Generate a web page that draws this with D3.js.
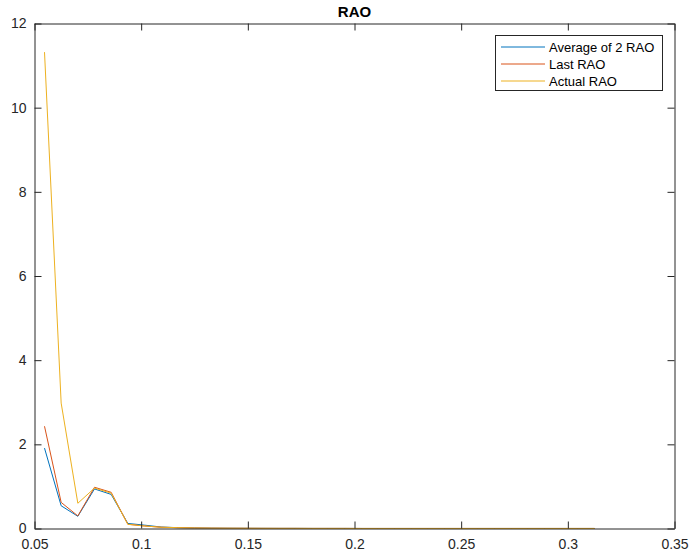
<!DOCTYPE html>
<html lang="en">
<head>
<meta charset="utf-8">
<title>RAO</title>
<script src="https://d3js.org/d3.v7.min.js"></script>
<style>
  body { margin: 0; background: #fff; }
  text { font-family: "Liberation Sans", Helvetica, Arial, sans-serif; fill: #262626; }
  .legend text { font-size: 13px; }
</style>
</head>
<body>
<div id="chart"></div>
<script>
// frequencies k/128, k = 7..40
var freq = [7,8,9,10,11,12,13,14,15,16,17,18,19,20,21,22,23,24,25,26,27,28,29,30,31,32,33,34,35,36,37,38,39,40].map(function(k){ return k / 128; });

var avgRAO    = [1.91, 0.54, 0.29, 0.94, 0.81, 0.12, 0.08, 0.035, 0.02, 0.012, 0.008, 0.006, 0.005, 0.004, 0.003, 0.003, 0.002, 0.002, 0.002, 0.001, 0.001, 0.001, 0.001, 0.001, 0.001, 0.001, 0.001, 0.001, 0.001, 0.001, 0.001, 0.001, 0.001, 0.001];
var lastRAO   = [2.43, 0.62, 0.30, 0.98, 0.86, 0.10, 0.06, 0.03, 0.02, 0.012, 0.008, 0.006, 0.005, 0.004, 0.003, 0.003, 0.002, 0.002, 0.002, 0.001, 0.001, 0.001, 0.001, 0.001, 0.001, 0.001, 0.001, 0.001, 0.001, 0.001, 0.001, 0.001, 0.001, 0.001];
var actualRAO = [11.32, 2.98, 0.60, 0.96, 0.84, 0.10, 0.06, 0.03, 0.02, 0.012, 0.008, 0.006, 0.005, 0.004, 0.003, 0.003, 0.002, 0.002, 0.002, 0.001, 0.001, 0.001, 0.001, 0.001, 0.001, 0.001, 0.001, 0.001, 0.001, 0.001, 0.001, 0.001, 0.001, 0.001];

var seriesNames = ["Average of 2 RAO", "Last RAO", "Actual RAO"];
var seriesColors = ["#0072BD", "#D95319", "#EDB120"];
var seriesValues = [avgRAO, lastRAO, actualRAO];

var xTicks = [0.05, 0.1, 0.15, 0.2, 0.25, 0.3, 0.35];
var yTicks = [0, 2, 4, 6, 8, 10, 12];

var width = 689, height = 557;
var plotLeft = 34.5, plotRight = 674.5, plotTop = 23.5, plotBottom = 528.5;

var svg = d3.select("#chart").append("svg")
  .attr("width", width)
  .attr("height", height);

var x = d3.scaleLinear().domain([0.05, 0.35]).range([plotLeft, plotRight]);
var y = d3.scaleLinear().domain([0, 12]).range([plotBottom, plotTop]);

// lines
var line = d3.line()
  .x(function(d){ return x(d[0]); })
  .y(function(d){ return y(d[1]); });

var plot = svg.append("g");
seriesValues.forEach(function(vals, i) {
  plot.append("path")
    .datum(freq.map(function(f, j){ return [f, vals[j]]; }))
    .attr("fill", "none")
    .attr("stroke", seriesColors[i])
    .attr("stroke-width", 1)
    .attr("d", line);
});

// axes (MATLAB style box with inward ticks)
var tickLen = 7;
svg.append("g")
  .attr("transform", "translate(0," + plotBottom + ")")
  .call(d3.axisBottom(x).tickValues(xTicks).tickSizeInner(-tickLen).tickSizeOuter(0).tickPadding(11).tickFormat(d3.format("")));
svg.append("g")
  .attr("transform", "translate(0," + plotTop + ")")
  .call(d3.axisTop(x).tickValues(xTicks).tickSizeInner(-tickLen).tickSizeOuter(0).tickFormat(""));
svg.append("g")
  .attr("transform", "translate(" + plotLeft + ",0)")
  .call(d3.axisLeft(y).tickValues(yTicks).tickSizeInner(-tickLen).tickSizeOuter(0).tickPadding(8));
svg.append("g")
  .attr("transform", "translate(" + plotRight + ",0)")
  .call(d3.axisRight(y).tickValues(yTicks).tickSizeInner(-tickLen).tickSizeOuter(0).tickFormat(""));

svg.selectAll(".domain, .tick line").attr("stroke", "#262626");
svg.selectAll(".tick text")
  .attr("fill", "#262626")
  .style("font-family", "'Liberation Sans', Helvetica, Arial, sans-serif")
  .style("font-size", "14px");

// title
svg.append("text")
  .attr("x", (plotLeft + plotRight) / 2)
  .attr("y", 17)
  .attr("text-anchor", "middle")
  .style("font-size", "15px")
  .style("font-weight", "bold")
  .style("fill", "#000")
  .text("RAO");

// legend
var legend = svg.append("g").attr("class", "legend");
legend.append("rect")
  .attr("x", 495.5).attr("y", 35.5)
  .attr("width", 167).attr("height", 55)
  .attr("fill", "#fff")
  .attr("stroke", "#262626")
  .attr("stroke-width", 1);
seriesNames.forEach(function(name, i) {
  var ly = 47 + i * 17;
  legend.append("line")
    .attr("x1", 501).attr("x2", 545)
    .attr("y1", ly).attr("y2", ly)
    .attr("stroke", seriesColors[i])
    .attr("stroke-width", 1);
  legend.append("text")
    .attr("x", 549)
    .attr("y", ly)
    .attr("dy", "0.35em")
    .style("fill", "#000")
    .text(name);
});
</script>
</body>
</html>
